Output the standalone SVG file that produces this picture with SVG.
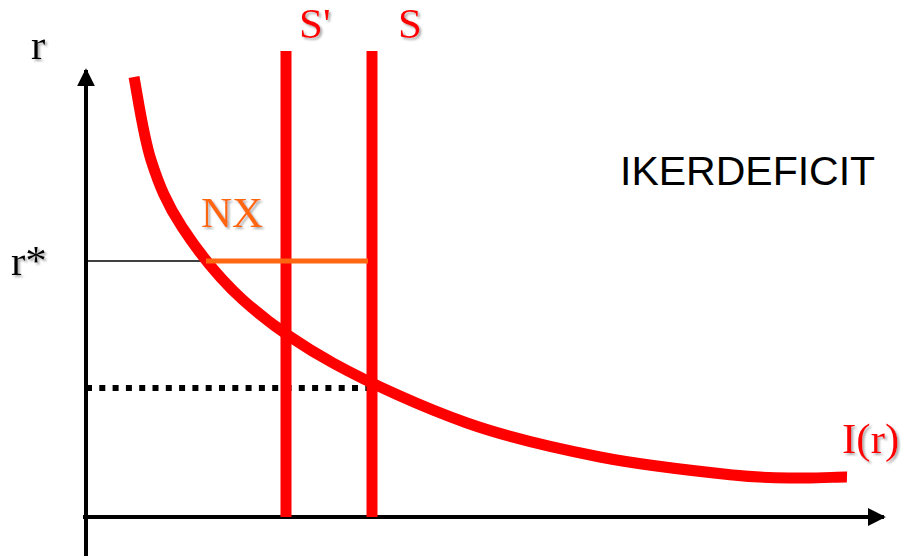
<svg xmlns="http://www.w3.org/2000/svg" width="901" height="556" viewBox="0 0 901 556">
<style>
.lbl{font-family:"Liberation Serif","Times New Roman",serif;font-size:43px;filter:url(#sh)}
.red{fill:#ff0000}
.org{fill:#ff6611}
.blk{fill:#000}
.sans{font-family:"Liberation Sans",Arial,sans-serif;font-size:41px;fill:#000}
.axis{stroke:#000;stroke-width:4;fill:none}
.vline{stroke:#ff0000;stroke-width:11;fill:none}
</style>
<defs>
<filter id="sh" x="-20%" y="-20%" width="150%" height="150%">
<feDropShadow dx="2" dy="2" stdDeviation="0.8" flood-color="#999" flood-opacity="0.8"/>
</filter>
<marker id="arr" viewBox="0 0 10 10" refX="9" refY="5" markerWidth="4.5" markerHeight="4.5" orient="auto" markerUnits="strokeWidth">
<path d="M0,0 L10,5 L0,10 Z" fill="#000"/>
</marker>
</defs>
<g id="connectors">
<line id="y-axis" class="axis" x1="86" y1="556" x2="86" y2="70" marker-end="url(#arr)"/>
<line id="x-axis" class="axis" x1="83" y1="517" x2="884" y2="517" marker-end="url(#arr)"/>
<line id="rstar-line" x1="86" y1="261" x2="206" y2="261" stroke="#000" stroke-width="1.5"/>
<line id="dotted" x1="86" y1="388" x2="384" y2="388" stroke="#000" stroke-width="6" stroke-dasharray="6,7.3"/>
</g>
<g id="S-prime-line"><line class="vline" x1="286" y1="51" x2="286" y2="517"/></g>
<g id="S-line"><line class="vline" x1="372" y1="51" x2="372" y2="517"/></g>
<g id="Ir-curve">
<path d="M134,77 C136.8,90.8 143,135 151,160 C159,185 166.7,203.7 182,227 C197.3,250.3 217.8,277.3 243,300 C268.2,322.7 295.7,342.5 333,363 C370.3,383.5 422.5,407.3 467,423 C511.5,438.7 555.7,448.3 600,457 C644.3,465.7 699.7,471.5 733,475 C766.3,478.5 781,477.7 800,478 C819,478.3 839.2,476.8 847,477" fill="none" stroke="#ff0000" stroke-width="11"/>
</g>
<g id="NX-line"><line x1="206" y1="261" x2="368" y2="261" stroke="#ff6611" stroke-width="5"/></g>
<g id="labels">
<text class="lbl blk" x="31" y="59">r</text>
<text class="lbl blk" x="11" y="275">r*</text>
<text class="lbl red" x="299" y="38">S'</text>
<text class="lbl red" x="398" y="38">S</text>
<text class="lbl org" x="201" y="227">NX</text>
<text class="lbl red" x="842" y="453">I(r)</text>
<text class="sans" x="620" y="185">IKERDEFICIT</text>
</g>
</svg>
